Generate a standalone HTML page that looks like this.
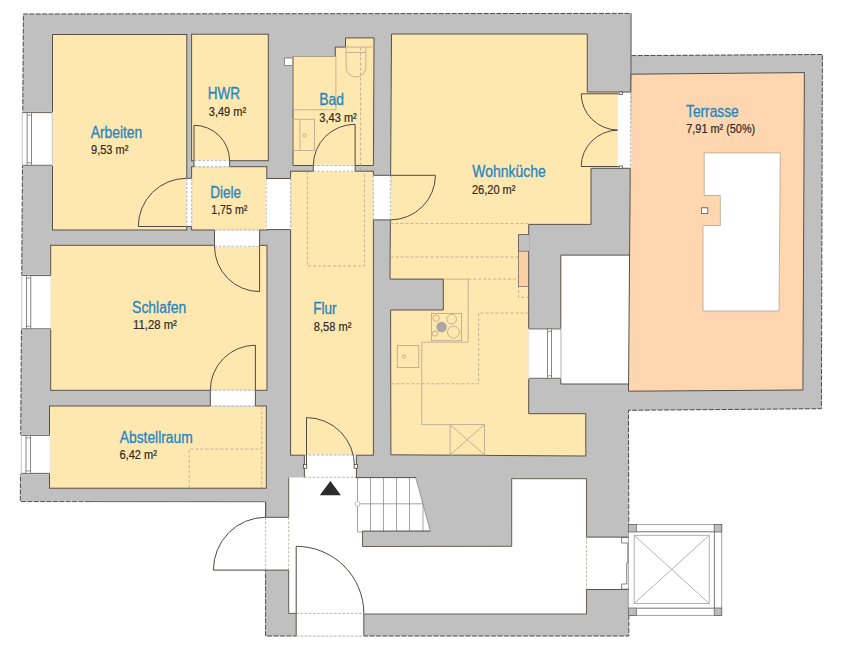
<!DOCTYPE html>
<html><head><meta charset="utf-8">
<style>
html,body{margin:0;padding:0;background:#fff;width:853px;height:667px;overflow:hidden}
svg{display:block}
.t{font-family:"Liberation Sans",sans-serif;fill:#2386c2;font-size:16px;stroke:#2386c2;stroke-width:0.3px}
.a{font-family:"Liberation Sans",sans-serif;fill:#2f2a22;font-size:12px;stroke:#2f2a22;stroke-width:0.2px}
</style></head><body>
<svg width="853" height="667" viewBox="0 0 853 667">

<polygon fill="#c0c0c1" points="23.4,14 631.3,13.4 631.3,55.6 822.4,54.5 821.4,408.7 628.5,410.3 628.8,636 265.6,636 265.6,501.9 20.3,501.6"/>
<g fill="none" stroke="#4a4a4a" stroke-width="1" stroke-dasharray="5,1.4">
<polyline points="90,501.7 20.3,501.6 23.4,14 631.3,13.4"/>
<polyline points="631.3,55.6 822.4,54.5 821.4,408.7 628.5,410.3 628.8,537"/>
<polyline points="628.8,589.5 628.8,636 265.6,636 265.6,570"/>
</g>
<path d="M631,13.4 L631,92 M90,501.7 L265.6,501.9 L265.6,517.3" stroke="#5a5a5a" stroke-width="1" fill="none"/>
<g fill="#fff">
<rect x="560.8" y="255.1" width="68.4" height="128.9"/>
<polygon points="288.7,477.6 415.8,477.8 430.2,530.5 362.5,531.1 362.5,546.5 511.7,546.3 511.7,478.7 586.5,478.7 586.5,537.1 628.8,537.1 628.8,589.5 586.5,589.5 586.5,614 363.8,614 363.8,636.5 296.2,636.5 296.2,613.4 288.7,613.4 288.7,570.1 265.6,570.1 265.6,517.3 288.7,517.3"/>
<rect x="20" y="502.5" width="245" height="165"/>
</g>
<g fill="#ffe8b0" stroke="#57514a" stroke-width="1">
<rect x="52.5" y="34.5" width="134.3" height="195.5"/>
<rect x="191.6" y="34.2" width="76.7" height="126.5"/>
<rect x="191.6" y="166.7" width="75.2" height="63.3"/>
<polygon points="293,56.5 335.3,56.5 335.3,47.1 345.5,47.1 345.5,37.9 374,37.9 373.4,165.5 293,165.5"/>
<rect x="290.6" y="171.2" width="82.8" height="284"/>
<rect x="50.7" y="245.3" width="216.3" height="145"/>
<rect x="49.5" y="406" width="216.8" height="82.2"/>
<polygon points="391.5,34 587.3,34 587.3,92 618.5,92 618.5,168.3 591,168.3 591,224.4 528.7,224.4 528.7,413.7 585.8,413.7 585.8,456 390.9,454.8 390.6,310 443.3,310 443.3,279.1 390,279.1"/>
</g>
<path d="M631,74.2 L804.4,72.6 L802.9,390 L628.5,391.2 Z" fill="#fed7b0" stroke="#57514a" stroke-width="1"/>
<path d="M704.2,152.9 L704.2,195.5 L720.3,195.5 L720.4,225.5 L703,225.5 L703,311 L779,311 L780.3,152.9 Z" fill="#fff" stroke="#a89c8c" stroke-width="0.7"/>
<rect x="701.4" y="207.8" width="6.4" height="5.6" fill="#fff" stroke="#555" stroke-width="0.8"/>
<polyline points="629.2,255.1 560.8,255.1 560.8,384 629.2,384" fill="none" stroke="#57514a" stroke-width="1"/>
<g fill="#fff"><rect x="20.80" y="111.90" width="31.90" height="54.10"/><rect x="20.30" y="274.80" width="31.40" height="54.70"/><rect x="19.80" y="434.70" width="30.90" height="39.40"/><rect x="528.00" y="328.50" width="33.50" height="50.50"/></g>
<g fill="#fff"><rect x="194.00" y="160.00" width="35.60" height="7.40"/><rect x="186.10" y="178.30" width="6.20" height="48.20"/><rect x="265.50" y="178.50" width="25.60" height="51.10"/><rect x="214.50" y="229.30" width="45.10" height="17.70"/><rect x="313.30" y="164.80" width="41.80" height="7.20"/><rect x="372.70" y="175.30" width="18.30" height="44.60"/><rect x="617.80" y="92.00" width="13.40" height="76.30"/><rect x="210.30" y="389.60" width="45.10" height="17.00"/><rect x="304.40" y="454.30" width="52.00" height="23.70"/><rect x="264.90" y="517.30" width="24.50" height="52.80"/><rect x="296.20" y="612.70" width="67.60" height="24.00"/><rect x="585.80" y="537.10" width="43.70" height="52.40"/></g>
<path d="M194,160.7 L194,166.7 M229.6,160.7 L229.6,166.7 M186.8,178.3 L191.6,178.3 M186.8,226.5 L191.6,226.5 M266.2,178.5 L290.4,178.5 M266.2,229.6 L290.4,229.6 M214.5,230 L214.5,246.3 M259.6,230 L259.6,246.3 M313.3,165.5 L313.3,171.3 M355.1,165.5 L355.1,171.3 M373.4,175.3 L390.3,175.3 M373.4,219.9 L390.3,219.9 M618.5,92 L630.5,92 M618.5,168.3 L630.5,168.3 M210.3,390.3 L210.3,405.9 M255.4,390.3 L255.4,405.9 M304.4,455 L304.4,477.3 M356.4,455 L356.4,477.3 M265.6,517.3 L288.7,517.3 M265.6,570.1 L288.7,570.1 M296.2,613.4 L296.2,636 M363.8,613.4 L363.8,636 M586.5,537.1 L628.8,537.1 M586.5,589.5 L628.8,589.5" fill="none" stroke="#57514a" stroke-width="1"/>
<path d="M194,160.7 L229.6,160.7 M194,166.7 L229.6,166.7 M186.8,178.3 L186.8,226.5 M191.6,178.3 L191.6,226.5 M266.2,178.5 L266.2,229.6 M290.4,178.5 L290.4,229.6 M214.5,230 L259.6,230 M214.5,246.3 L259.6,246.3 M313.3,165.5 L355.1,165.5 M313.3,171.3 L355.1,171.3 M373.4,175.3 L373.4,219.9 M390.3,175.3 L390.3,219.9 M630.5,92 L630.5,168.3 M210.3,390.3 L255.4,390.3 M210.3,405.9 L255.4,405.9 M304.4,455 L356.4,455 M304.4,477.3 L356.4,477.3 M265.6,517.3 L265.6,570.1 M288.7,517.3 L288.7,570.1 M296.2,613.4 L363.8,613.4 M296.2,636 L363.8,636 M586.5,537.1 L586.5,589.5" fill="none" stroke="#aaa49a" stroke-width="0.8" stroke-dasharray="2.6,1.6"/>
<rect x="284.3" y="58" width="8.5" height="7.6" fill="#fff" stroke="#57514a" stroke-width="0.6"/>
<g fill="none" stroke="#4e4943" stroke-width="1">
<path d="M194,125.3 L194,160.7 M194,125.3 A35.6,35.4 0 0 1 229.6,160.7"/>
<path d="M138.3,226.5 L186.5,226.5 M138.3,226.5 A48.2,48.2 0 0 1 186.5,178.3"/>
<path d="M259.6,291.6 L259.6,246.3 M214.5,246.3 A45.1,45.3 0 0 0 259.6,291.6"/>
<path d="M355.1,124.3 L355.1,165.5 M355.1,124.3 A41.8,41.2 0 0 0 313.3,165.5"/>
<path d="M390.3,175.3 L435.4,175.3 M435.4,175.3 A45.1,44.6 0 0 1 390.3,219.9"/>
<path d="M581.2,93.8 L618.5,93.8 M581.2,93.8 A37.3,36.3 0 0 0 617.6,130.1 M581.2,166.5 L618.5,166.5 M581.2,166.5 A37.3,36.4 0 0 1 617.6,130.1"/>
<path d="M255.4,345.2 L255.4,390.3 M255.4,345.2 A45.1,45.1 0 0 0 210.3,390.3"/>
<path d="M306.5,466.1 L306.5,417.6 A48,48.5 0 0 1 354.5,466.1"/>
<path d="M213.4,570.1 L265.6,570.1 M213.4,570.1 A52.2,52.8 0 0 1 265.6,517.3"/>
<path d="M296.2,613.4 L296.2,546.3 A67.6,67.1 0 0 1 363.8,613.4"/>
</g>
<g fill="#fff" stroke="#4e4943" stroke-width="0.8">
<rect x="303.4" y="464.4" width="3.3" height="3.8"/>
<rect x="354.1" y="464.4" width="3.3" height="3.8"/>
<rect x="619" y="92" width="3.6" height="2.5"/>
<rect x="619" y="166" width="3.6" height="2.3"/>
</g>

<line x1="22.3" y1="112.6" x2="22.3" y2="165.3" stroke="#b8b8b8" stroke-width="0.8"/><line x1="52" y1="112.6" x2="52" y2="165.3" stroke="#e6dcc4" stroke-width="0.8"/><path d="M22.3,112.6 L52,112.6 M22.3,165.3 L52,165.3" stroke="#57514a" stroke-width="0.9"/><rect x="27.1" y="112.6" width="4.399999999999999" height="52.70000000000002" fill="#fff" stroke="#6a6a6a" stroke-width="0.8"/><line x1="27.1" y1="115.1" x2="31.5" y2="115.1" stroke="#6a6a6a" stroke-width="0.7"/><line x1="27.1" y1="162.8" x2="31.5" y2="162.8" stroke="#6a6a6a" stroke-width="0.7"/>
<line x1="21.8" y1="275.5" x2="21.8" y2="328.8" stroke="#b8b8b8" stroke-width="0.8"/><line x1="51" y1="275.5" x2="51" y2="328.8" stroke="#e6dcc4" stroke-width="0.8"/><path d="M21.8,275.5 L51,275.5 M21.8,328.8 L51,328.8" stroke="#57514a" stroke-width="0.9"/><rect x="26.4" y="275.5" width="4.400000000000002" height="53.30000000000001" fill="#fff" stroke="#6a6a6a" stroke-width="0.8"/><line x1="26.4" y1="278.0" x2="30.8" y2="278.0" stroke="#6a6a6a" stroke-width="0.7"/><line x1="26.4" y1="326.3" x2="30.8" y2="326.3" stroke="#6a6a6a" stroke-width="0.7"/>
<line x1="21.3" y1="435.4" x2="21.3" y2="473.4" stroke="#b8b8b8" stroke-width="0.8"/><line x1="50" y1="435.4" x2="50" y2="473.4" stroke="#e6dcc4" stroke-width="0.8"/><path d="M21.3,435.4 L50,435.4 M21.3,473.4 L50,473.4" stroke="#57514a" stroke-width="0.9"/><rect x="26.0" y="435.4" width="4.399999999999999" height="38.0" fill="#fff" stroke="#6a6a6a" stroke-width="0.8"/><line x1="26.0" y1="437.9" x2="30.4" y2="437.9" stroke="#6a6a6a" stroke-width="0.7"/><line x1="26.0" y1="470.9" x2="30.4" y2="470.9" stroke="#6a6a6a" stroke-width="0.7"/>
<line x1="560.8" y1="328.9" x2="560.8" y2="378.3" stroke="#b8b8b8" stroke-width="0.8"/><line x1="528.7" y1="328.9" x2="528.7" y2="378.3" stroke="#e6dcc4" stroke-width="0.8"/><path d="M528.7,328.9 L560.8,328.9 M528.7,378.3 L560.8,378.3" stroke="#57514a" stroke-width="0.9"/><rect x="547.5" y="328.9" width="4.0" height="49.400000000000034" fill="#fff" stroke="#6a6a6a" stroke-width="0.8"/><line x1="547.5" y1="331.4" x2="551.5" y2="331.4" stroke="#6a6a6a" stroke-width="0.7"/><line x1="547.5" y1="375.8" x2="551.5" y2="375.8" stroke="#6a6a6a" stroke-width="0.7"/>
<g fill="none" stroke="#b9ab90" stroke-width="0.9">
<rect x="293" y="56.5" width="42.9" height="53.3"/>
<line x1="345.5" y1="47.1" x2="374" y2="47.1"/>
<path d="M346.1,47.1 L346.1,67 A9.9,10 0 0 0 365.9,67 L365.9,47.1"/>
<line x1="346.1" y1="52.5" x2="365.9" y2="52.5"/>
<rect x="293" y="119.3" width="21.5" height="31.1"/>
<line x1="299.9" y1="119.3" x2="299.9" y2="150.4"/>
<circle cx="304.4" cy="135.3" r="1.6"/>
</g>
<g fill="none" stroke="#b9ab90" stroke-width="0.9" stroke-dasharray="3,2">
<line x1="360.6" y1="47.5" x2="360.6" y2="171"/>
<path d="M307.4,171.5 L307.4,265.9 L364.4,265.9 L364.4,171.5"/>
<path d="M390.5,223.4 L528.5,223.4"/>
<path d="M390.5,257 L518.5,257"/>
<path d="M468.2,279.1 L518.5,279.1"/>
<path d="M518.5,235 L518.5,297.3 L528.5,297.3"/>
<path d="M528.5,313 L478.6,313 L478.6,383.8 L390.8,383.8"/>
<path d="M189.2,488 L189.2,449.1 L261.8,449.1 M261.8,406.3 L261.8,488"/>
</g>
<g fill="none" stroke="#b9ab90" stroke-width="0.9">
<path d="M443.3,279.1 L468.2,279.1 L468.2,342.2 L421.8,342.2 L421.8,424.6 L450.1,424.6"/>
<rect x="431.4" y="313.4" width="30.1" height="27.3"/>
<circle cx="436.2" cy="318.2" r="3.2"/>
<circle cx="451.6" cy="319.2" r="4.8"/>
<circle cx="435" cy="333.6" r="2.6"/>
<circle cx="453.5" cy="332.2" r="6"/>
<rect x="397.3" y="345.5" width="21.5" height="22"/>
<circle cx="404" cy="356.6" r="1.7"/>
<rect x="450.1" y="424.6" width="34.3" height="30.2"/>
<path d="M450.1,424.6 L484.4,454.8 M484.4,424.6 L450.1,454.8"/>
</g>
<circle cx="441.6" cy="327" r="5.2" fill="#aaa5a0"/>

<rect x="518.5" y="234.5" width="10.7" height="16.7" fill="#c0c0c1"/>
<path d="M529.2,234.5 L518.5,234.5 L518.5,251.2" fill="none" stroke="#57514a" stroke-width="0.8"/>
<rect x="518.5" y="251.2" width="9.8" height="35.2" fill="#fbcfa6" stroke="#57514a" stroke-width="0.6"/>
<g fill="none" stroke="#9a9a9a" stroke-width="0.9">
<path d="M357.5,477.6 L357.5,532 L362.5,532 M370.5,477.6 L370.5,531 M383.5,477.6 L383.5,531 M396.5,477.6 L396.5,531 M409.5,477.6 L409.5,531 M423,477.6 L423,531"/>
<path d="M357.5,503.8 L428,503.8"/>
</g>
<circle cx="357.5" cy="503.8" r="2.4" fill="#fff" stroke="#aaa" stroke-width="0.8"/>
<polygon points="319.8,495.3 340.9,495.3 330.4,481" fill="#2b2b2b"/>

<polygon points="415.8,477.6 430.2,530.6 511.7,530.6 511.7,477.6" fill="#c0c0c1"/>
<path d="M415.8,477.8 L430.2,530.5" stroke="#8a8a8a" stroke-width="0.8" fill="none"/>
<path d="M355.5,477.6 L416,477.6 M362.5,531.1 L430.5,531.1" stroke="#57514a" stroke-width="1" fill="none"/>
<g fill="none" stroke="#57514a" stroke-width="0.9">
<path d="M362.5,531.1 L362.5,546.5 L511.7,546.3 L511.7,478.7 L586.5,478.7 L586.5,537.1"/>
<path d="M586.5,589.5 L586.5,614 L363.8,614"/>
<path d="M288.7,477.6 L288.7,517.3 M265.6,501.9 L265.6,517.3"/>
<path d="M288.7,570.1 L288.7,613.4 L296.2,613.4"/>
</g>
<g fill="#fff" stroke="#9a9a9a" stroke-width="0.9">
<rect x="628.3" y="524.6" width="93.4" height="90.8"/>
<rect x="634.2" y="535.3" width="75" height="68.2" stroke="#a8a8a8"/>
</g>
<g fill="none" stroke="#a0a0a0" stroke-width="0.8">
<path d="M634.2,535.3 L709.2,603.5 M709.2,535.3 L634.2,603.5"/>
</g>
<path d="M636.5,531.8 L714.4,531.8 L714.4,608.2 L636.5,608.2" fill="none" stroke="#666" stroke-width="0.9"/>
<g fill="#bdbdbd" stroke="#666" stroke-width="0.8">
<rect x="628.5" y="524.6" width="7.8" height="7.4"/>
<rect x="714.2" y="524.6" width="7.5" height="7.4"/>
<rect x="628.5" y="608" width="7.8" height="7.4"/>
<rect x="714.2" y="608" width="7.5" height="7.4"/>
</g>
<path d="M628.8,537.4 L621.6,537.6 L621.6,543 L627.9,543 L627.9,563 L626.7,563 L626.7,584 L621.6,584 L621.6,589.2 L628.8,589.2" fill="none" stroke="#666" stroke-width="0.8"/>

<text class="t" transform="translate(90.70,138.40) scale(0.866,1)">Arbeiten</text><text class="a" transform="translate(91.05,154.45) scale(0.919,1)">9,53 m²</text><text class="t" transform="translate(207.72,99.30) scale(0.847,1)">HWR</text><text class="a" transform="translate(208.76,115.75) scale(0.921,1)">3,49 m²</text><text class="t" transform="translate(210.32,197.50) scale(0.846,1)">Diele</text><text class="a" transform="translate(211.25,213.75) scale(0.887,1)">1,75 m²</text><text class="t" transform="translate(319.19,105.00) scale(0.867,1)">Bad</text><text class="a" transform="translate(319.36,121.55) scale(0.921,1)">3,43 m²</text><text class="t" transform="translate(472.36,177.30) scale(0.873,1)">Wohnküche</text><text class="a" transform="translate(471.95,193.75) scale(0.921,1)">26,20 m²</text><text class="t" transform="translate(686.02,116.60) scale(0.860,1)">Terrasse</text><text class="a" transform="translate(686.25,133.15) scale(0.908,1)">7,91 m² (50%)</text><text class="t" transform="translate(132.10,312.90) scale(0.870,1)">Schlafen</text><text class="a" transform="translate(133.10,328.85) scale(0.942,1)">11,28 m²</text><text class="t" transform="translate(313.21,314.40) scale(0.851,1)">Flur</text><text class="a" transform="translate(313.86,330.75) scale(0.923,1)">8,58 m²</text><text class="t" transform="translate(119.70,442.90) scale(0.866,1)">Abstellraum</text><text class="a" transform="translate(119.45,459.15) scale(0.921,1)">6,42 m²</text>
</svg>
</body></html>
